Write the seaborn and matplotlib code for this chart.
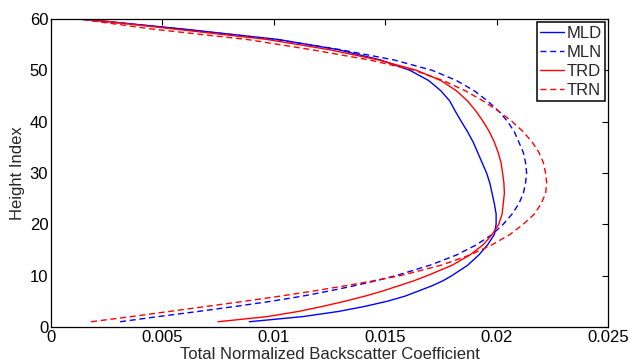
import matplotlib
matplotlib.use("Agg")
import matplotlib.pyplot as plt
import seaborn as sns
import pandas as pd

# Height levels at which each profile is tabulated
height = [1, 2, 3, 4, 5, 6, 7, 8, 9, 10, 12, 14, 16, 18, 20, 22, 24, 26, 28,
          30, 32, 34, 36, 38, 40, 42, 44, 46, 48, 50, 52, 54, 56, 58, 60]

# Total normalized backscatter coefficient profiles
mld = [0.0089, 0.0113, 0.0129, 0.0141, 0.0151, 0.0159, 0.0165, 0.0171, 0.0176,
       0.0180, 0.0187, 0.0192, 0.0196, 0.0199, 0.01998, 0.01998, 0.0199, 0.0198,
       0.0197, 0.01955, 0.01935, 0.01915, 0.01895, 0.0187, 0.01842, 0.01815,
       0.0179, 0.0175, 0.01695, 0.0161, 0.0148, 0.0129, 0.0102, 0.0060, 0.0014]
mln = [0.0031, 0.0048, 0.0066, 0.0083, 0.0099, 0.0113, 0.0125, 0.0136, 0.0146,
       0.0155, 0.0170, 0.0182, 0.0191, 0.0198, 0.0203, 0.0207, 0.0210, 0.0212,
       0.0213, 0.02135, 0.0213, 0.0212, 0.0210, 0.0208, 0.0205, 0.0201, 0.0196,
       0.0190, 0.0182, 0.0171, 0.0154, 0.0130, 0.0101, 0.0059, 0.0012]
trd = [0.0075, 0.0097, 0.0111, 0.0122, 0.0132, 0.0141, 0.0149, 0.0156, 0.0163,
       0.0169, 0.0180, 0.0188, 0.0194, 0.0198, 0.0201, 0.02025, 0.0203, 0.02035,
       0.02033, 0.02027, 0.0202, 0.02007, 0.0199, 0.01968, 0.0194, 0.01908,
       0.0187, 0.0182, 0.0175, 0.0164, 0.0147, 0.0125, 0.0097, 0.0056, 0.0015]
trn = [0.0018, 0.0036, 0.0053, 0.0070, 0.0087, 0.0103, 0.0118, 0.0132, 0.0145,
       0.0157, 0.0175, 0.0188, 0.0198, 0.0206, 0.0212, 0.0217, 0.0220, 0.0222,
       0.02225, 0.0222, 0.0221, 0.0219, 0.0216, 0.0212, 0.0207, 0.0201, 0.0194,
       0.0186, 0.0176, 0.0163, 0.0143, 0.0117, 0.0088, 0.0046, 0.0012]

series_names = ["MLD", "MLN", "TRD", "TRN"]
series_values = [mld, mln, trd, trn]

x_ticks = [0, 0.005, 0.01, 0.015, 0.02, 0.025]
x_tick_labels = ["0", "0.005", "0.01", "0.015", "0.02", "0.025"]
y_ticks = [0, 10, 20, 30, 40, 50, 60]

df = pd.concat(
    [pd.DataFrame({"height": height, "value": vals, "series": name})
     for name, vals in zip(series_names, series_values)],
    ignore_index=True,
)

sns.set_style("white")
plt.rcParams["font.family"] = ["Liberation Sans", "DejaVu Sans"]
plt.rcParams["axes.edgecolor"] = "black"
plt.rcParams["axes.linewidth"] = 0.9

fig = plt.figure(figsize=(6.3, 3.64), dpi=100)
ax = fig.add_axes([0.081, 0.102, 0.884, 0.846])

palette = {"MLD": "#0000ff", "MLN": "#0000ff", "TRD": "#ff0000", "TRN": "#ff0000"}
dashes = {"MLD": "", "MLN": (4.3, 2.7), "TRD": "", "TRN": (4.3, 2.7)}

sns.lineplot(data=df, x="value", y="height", hue="series", style="series",
             hue_order=series_names, style_order=series_names,
             palette=palette, dashes=dashes, orient="y", sort=True,
             linewidth=1.0, ax=ax)

ax.set_xlim(0, 0.025)
ax.set_ylim(0, 60)
ax.set_xticks(x_ticks)
ax.set_xticklabels(x_tick_labels)
ax.set_yticks(y_ticks)
ax.tick_params(direction="in", length=4, width=0.8, top=True, right=True,
               labelsize=12, colors="black", pad=2)
for s in ax.spines.values():
    s.set_visible(True)
    s.set_color("black")

ax.set_xlabel("Total Normalized Backscatter Coefficient", fontsize=12, labelpad=2)
ax.set_ylabel("Height Index", fontsize=12, labelpad=3)

handles, labels = ax.get_legend_handles_labels()
leg = ax.legend(handles, labels, loc="upper right", fontsize=12,
                frameon=True, fancybox=False, framealpha=1, edgecolor="black",
                handlelength=1.4, handletextpad=0.15, labelspacing=0.25,
                borderpad=0.2, borderaxespad=0.2)
leg.get_frame().set_linewidth(1.1)

fig.savefig("out.png", dpi=100)
